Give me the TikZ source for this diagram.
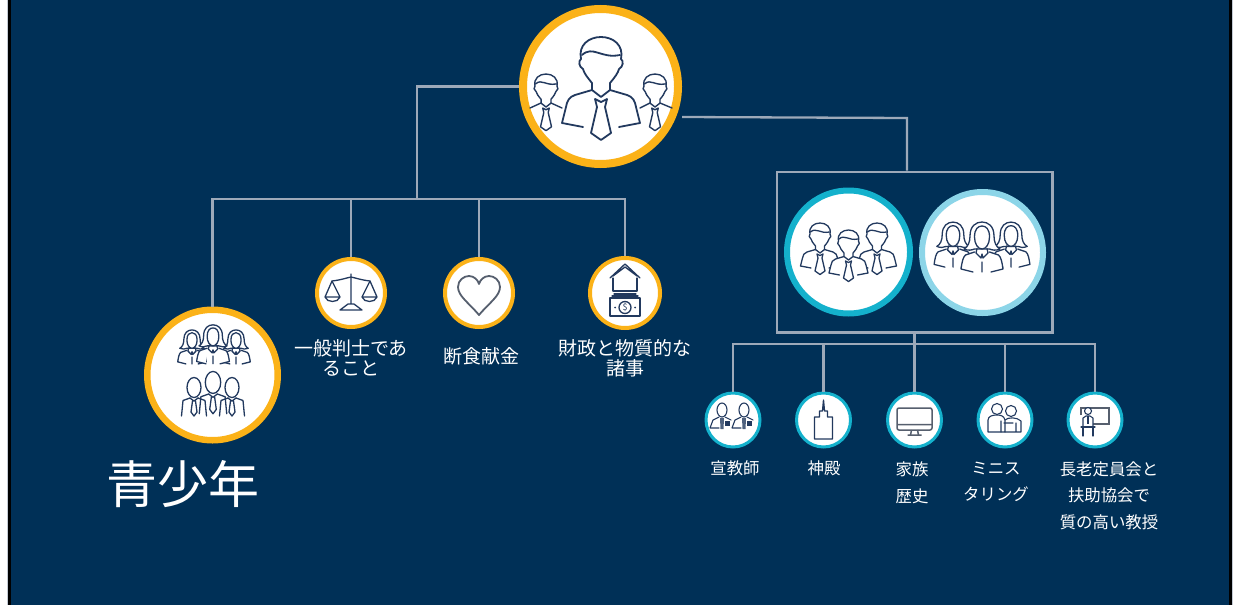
\documentclass[tikz,border=0pt]{standalone}
\usepackage{fontspec}
\setmainfont{Noto Sans CJK JP}
\definecolor{navybg}{HTML}{003057}
\definecolor{linkgrey}{HTML}{9DA9B9}
\definecolor{icondark}{HTML}{22395E}
\definecolor{heartgrey}{HTML}{565F6E}
\definecolor{ringgold}{HTML}{FBB218}
\definecolor{ringteal}{HTML}{14B1CC}
\definecolor{ringpale}{HTML}{8CD5E8}
\def\iconw{1.3pt}
\newcommand{\manheadpath}{
	\draw[icon, fill=white] (-9,-14) .. controls (-14,-20) and (-17,-24) .. (-18,-28) .. controls (-22,-30) and (-23,-36) .. (-20,-38)
		.. controls (-23,-52) and (-12,-60) .. (0,-60) .. controls (12,-60) and (23,-52) .. (20,-38)
		.. controls (23,-36) and (22,-30) .. (18,-28) .. controls (17,-24) and (14,-20) .. (9,-14) -- (9,-7) -- (0,0) -- (-9,-7) -- cycle;
	\draw[icon] (-19,-42) .. controls (-8,-52) and (0,-38) .. (19,-42);
	\draw[icon, fill=white] (-6,2) -- (0,5) -- (6,2) -- (4,10) -- (10,36) -- (0,43) -- (-10,36) -- (-4,10) -- cycle;
}
\tikzset{
	ring/.style 2 args={circle, fill=white, inner sep=0pt, draw=#1, line width=#2},
	linkline/.style={draw=linkgrey, line width=2.3pt},
	icon/.style={draw=icondark, line width=\iconw, line join=round, line cap=round},
	bigtext/.style={text=white, align=center, font=\fontsize{19}{20}\selectfont},
	smalltext/.style={text=white, align=center, font=\fontsize{16.4}{26.5}\selectfont},
	pics/manhead/.style={code={\manheadpath}},
	pics/man/.style={code={
		\draw[icon, fill=white] (-9,-7) -- (-26,-2) .. controls (-32,0) and (-34,4) .. (-35,10) -- (-39,26) -- (-18,30)
			(9,-7) -- (26,-2) .. controls (32,0) and (34,4) .. (35,10) -- (39,26) -- (18,30);
		\manheadpath
	}},
	pics/woman/.style={code={
		\draw[icon, fill=white] (-15,-2) -- (-33,4) .. controls (-38,8) and (-40,18) .. (-42,32) -- (-18,38)
			(15,-2) -- (33,4) .. controls (38,8) and (40,18) .. (42,32) -- (18,38) (0,18) -- (0,38);
		\draw[icon, fill=white] (-24,-34) .. controls (-24,-54) and (-12,-62) .. (0,-62) .. controls (12,-62) and (24,-54) .. (24,-34)
			.. controls (24,-22) and (28,-12) .. (36,-8) .. controls (28,-4) and (20,-6) .. (15,-8) -- (-15,-8)
			.. controls (-20,-6) and (-28,-4) .. (-36,-8) .. controls (-28,-12) and (-24,-22) .. (-24,-34) -- cycle;
		\draw[icon, fill=white] (-15,-32) .. controls (-15,-48) and (-8,-54) .. (0,-54) .. controls (8,-54) and (15,-48) .. (15,-32)
			.. controls (15,-18) and (8,-8) .. (0,-8) .. controls (-8,-8) and (-15,-18) .. (-15,-32) -- cycle;
		\draw[icon] (-10,-9) -- (-12,0) -- (-2,10) -- (0,2) -- (2,10) -- (12,0) -- (10,-9);
	}},
	pics/boy/.style={code={
		\draw[icon] (-8,0) -- (-22,5) -- (-25,36) (8,0) -- (22,5) -- (25,36);
		\draw[icon, fill=white] (0,-21) ellipse (14 and 20);
		\draw[icon] (-8,0) -- (0,6) -- (8,0) (-3,6) -- (-6,28) -- (0,36) -- (6,28) -- (3,6);
	}},
	pics/scalesicon/.style={code={
		\draw[icon] (0,-19) -- (0,11) (-3,11) -- (3,11) -- (11,17) -- (-11,17) -- cycle;
		\draw[icon] (-19,-12) .. controls (-10,-13) and (-5,-15) .. (0,-16) .. controls (5,-15) and (10,-13) .. (19,-12);
		\draw[icon] (-26,4) -- (-19,-12) -- (-11,4) -- cycle (-26,4) .. controls (-24,10) and (-13,10) .. (-11,4);
		\draw[icon] (11,4) -- (19,-12) -- (26,4) -- cycle (11,4) .. controls (13,10) and (24,10) .. (26,4);
	}},
	pics/hearticon/.style={code={
		\draw[draw=heartgrey, line width=1.8pt, line join=round] (0,22) .. controls (-10,10) and (-21,3) .. (-21,-6) .. controls (-21,-13) and (-15,-17) .. (-10,-17)
			.. controls (-5,-17) and (-1,-13) .. (0,-9) .. controls (1,-13) and (5,-17) .. (10,-17)
			.. controls (15,-17) and (21,-13) .. (21,-6) .. controls (21,3) and (10,10) .. (0,22) -- cycle;
	}},
	pics/moneyicon/.style={code={
		\draw[icon] (-15,-15) -- (0,-29) -- (15,-15) (-12,-17) -- (0,-26) -- (12,-17);
		\draw[icon] (-12,-15) -- (-12,-2) -- (12,-2) -- (12,-15);
		\draw[icon] (-11,1) -- (11,1) (-13,3) -- (13,3);
		\draw[icon] (-15,5) rectangle (15,23);
		\draw[icon] (0,14.5) circle (6);
		\node[text=icondark, inner sep=0pt, font=\fontsize{9}{9}\selectfont] (dollar) at (0,14.5) {\$};
		\fill[icondark] (-10,14.5) circle (1) (10,14.5) circle (1);
	}},
	pics/missionary/.style={code={
		\draw[icon, line width=1.1pt] (0,-10) ellipse (5 and 7);
		\draw[icon, line width=1.1pt] (-3,-3) -- (-9,0) -- (-12,8) -- (-3,8) (3,-3) -- (9,0);
		\fill[icondark!80] (-2,-2) -- (2,-2) -- (1.5,9) -- (-1.5,9) -- cycle;
		\fill[icondark] (3,1) rectangle (8,6);
	}},
	pics/templeicon/.style={code={
		\draw[icon] (-9,-3) -- (-9,19) -- (9,19) -- (9,-3) -- (4,-3) -- (4,-9) -- (1,-9) -- (0,-20) -- (-1,-9) -- (-4,-9) -- (-4,-3) -- cycle;
	}},
	pics/monitoricon/.style={code={
		\draw[draw=heartgrey, line width=1.5pt, rounded corners=2pt] (-17.5,-12) rectangle (17.5,10);
		\draw[draw=heartgrey, line width=1.5pt] (-17.5,4.5) -- (17.5,4.5) (-3,10) -- (-4,15) (3,10) -- (4,15) (-7,15) -- (7,15);
	}},
	pics/mentoricon/.style={code={
		\draw[icon, line width=1.1pt] (-8,-11) circle (5.5) (6,-9) circle (5.5);
		\draw[icon, line width=1.1pt] (-17,12) -- (-17,0) .. controls (-17,-4) and (-12,-5) .. (-8,-5) .. controls (-4,-5) and (-1,-4) .. (0,0) -- (0,12) -- cycle;
		\draw[icon, line width=1.1pt] (0,0) .. controls (3,-3) and (12,-3) .. (16,1) -- (16,12) -- (0,12) (-4,1) -- (-4,12) (11,3) -- (11,12) (-1,3) -- (8,3);
	}},
	pics/teachericon/.style={code={
		\draw[draw=heartgrey, line width=1.3pt] (-14,-5) -- (-14,-12) -- (14,-12) -- (14,4) -- (-2,4);
		\draw[icon, fill=white, line width=1.1pt] (-7,-9) circle (3.5);
		\draw[icon, fill=white, line width=1.1pt] (-12,7) -- (-12,-2) -- (-9,-4) -- (-5,-4) -- (-2,-2) -- (-2,7) -- cycle;
		\draw[icon, line width=1.1pt] (-14,7) -- (0,7) (-12,7) -- (-12,16) (-2,7) -- (-2,16);
		\fill[icondark] (-8,-4) rectangle (-6,4);
	}},
}
\begin{document}
\begin{tikzpicture}[x=1pt, y=-1pt]
	\useasboundingbox (0,0) rectangle (1233,605);
	% page edge
	\fill[white] (0,0) rectangle (1233,605);
	\fill[linkgrey!60] (7,0) rectangle (1233,605);
	\fill[black] (8,0) rectangle (1232,605);
	\fill[navybg] (10.5,0) rectangle (1229,605);

	\node[ring={ringgold}{8pt}, minimum size=155pt] (top) at (600.5,86.5) {};
	\node[ring={ringgold}{6.5pt}, minimum size=130.5pt] (youth) at (212.5,375) {};
	\node[ring={ringgold}{4pt}, minimum size=68pt] (judge) at (351,293) {};
	\node[ring={ringgold}{4pt}, minimum size=68pt] (fasting) at (479,293) {};
	\node[ring={ringgold}{4pt}, minimum size=70pt] (finance) at (625,293) {};
	\node[draw=linkgrey, line width=2.3pt, minimum width=275.7pt, minimum height=160.7pt, inner sep=0pt] (quorums) at (914.5,252) {};
	\node[ring={ringteal}{6pt}, minimum size=123pt] (men) at (848.5,252) {};
	\node[ring={ringpale}{6pt}, minimum size=121pt] (women) at (982.5,252.5) {};
	\node[ring={ringteal}{3pt}, minimum size=54pt] (mission) at (733,420) {};
	\node[ring={ringteal}{3pt}, minimum size=54pt] (temple) at (823.5,420) {};
	\node[ring={ringteal}{3pt}, minimum size=54pt] (family) at (914.5,420) {};
	\node[ring={ringteal}{3pt}, minimum size=54pt] (mentor) at (1005,420) {};
	\node[ring={ringteal}{3pt}, minimum size=54pt] (teach) at (1095,420) {};

	\coordinate (hub) at (417,199);
	\coordinate (turn) at (907,118);
	\coordinate (stem) at (914.5,344);
	\draw[linkline] (top.west) -| (hub);
	\draw[linkline] (youth.north) |- (hub) -| (finance.north);
	\draw[linkline] (judge.north) -- (judge.north |- hub);
	\draw[linkline] (fasting.north) -- (fasting.north |- hub);
	\draw[linkline] (top.east |- 0,117) -- (turn) -- (turn |- quorums.north);
	\draw[linkline] (quorums.south) -- (stem);
	\draw[linkline] (mission.north) |- (stem) -| (teach.north);
	\draw[linkline] (temple.north) -- (temple.north |- stem);
	\draw[linkline] (family.north) -- (family.north |- stem);
	\draw[linkline] (mentor.north) -- (mentor.north |- stem);

	% top group
	\def\iconw{1.4pt}
	\pic[scale=.55] at (546,107) {manhead};
	\draw[icon] (541,103) -- (530,108) (551,103) -- (562,108);
	\pic[scale=.55] at (655,107) {manhead};
	\draw[icon] (650,103) -- (640,108) (660,103) -- (672,108);
	\def\iconw{1.8pt}
	\pic at (601,97) {man};
	\def\iconw{1.3pt}

	% right groups
	\pic[scale=.5] at (820,253) {man};
	\pic[scale=.5] at (877,253) {man};
	\pic[scale=.5] at (848.5,260) {man};
	\pic[scale=.45] at (953,250) {woman};
	\pic[scale=.45] at (1011,250) {woman};
	\pic[scale=.5] at (982,253) {woman};

	% youth
	\pic[scale=.34] at (192,351) {woman};
	\pic[scale=.34] at (236,351) {woman};
	\pic[scale=.39] at (213,349) {woman};
	\pic[scale=.5] at (194,398) {boy};
	\pic[scale=.5] at (232,398) {boy};
	\pic[scale=.55] at (213,394) {boy};

	\pic at (judge.center) {scalesicon};
	\pic at (fasting.center) {hearticon};
	\pic at (finance.center) {moneyicon};
	\pic at ([xshift=-11pt]mission.center) {missionary};
	\pic at ([xshift=11pt]mission.center) {missionary};
	\pic at (temple.center) {templeicon};
	\pic at (family.center) {monitoricon};
	\pic at (mentor.center) {mentoricon};
	\pic at (teach.center) {teachericon};

	\node[text=white, font=\fontsize{51}{51}\selectfont] (youthlabel) at (183,484) {青少年};
	\node[bigtext] (judgelabel) at (351,358) {一般判士であ\\ること};
	\node[bigtext] (fastinglabel) at (481,356) {断食献金};
	\node[bigtext] (financelabel) at (625,358) {財政と物質的な\\諸事};
	\node[smalltext] (missionlabel) at (735,468) {宣教師};
	\node[smalltext] (templelabel) at (824,468) {神殿};
	\node[smalltext] (familylabel) at (912,482.5) {家族\\歴史};
	\node[smalltext] (mentorlabel) at (996,482) {ミニス\\タリング};
	\node[smalltext] (teachlabel) at (1109,495.5) {長老定員会と\\扶助協会で\\質の高い教授};
\end{tikzpicture}
\end{document}
